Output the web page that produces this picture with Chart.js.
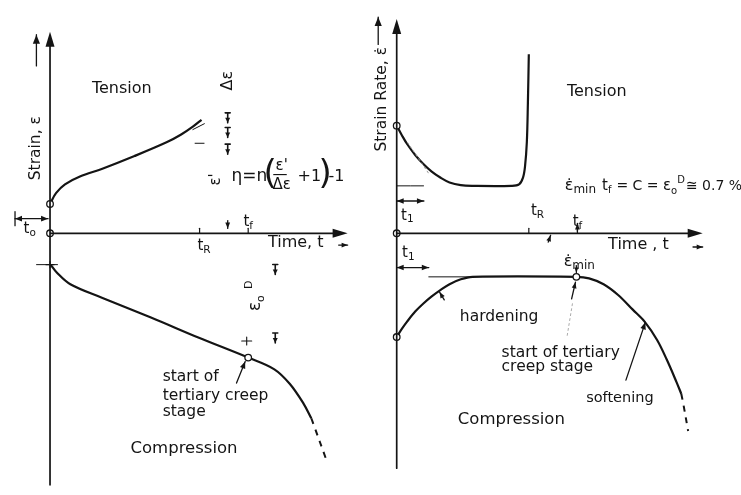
<!DOCTYPE html>
<html>
<head>
<meta charset="utf-8">
<script src="https://cdn.jsdelivr.net/npm/chart.js@4"></script>
<style>
  body { margin: 0; background: #fff; }
  #wrap { position: relative; width: 741px; height: 495px; }
  #wrap canvas { position: absolute; top: 0; }
</style>
</head>
<body>
<div id="wrap">
  <canvas id="strainChart" width="370" height="495" style="left:0"></canvas>
  <canvas id="rateChart" width="371" height="495" style="left:370px"></canvas>
</div>
<script>
// ---- data (time in units where t_R = 10, strain / strain rate in arbitrary units) ----
// left panel: strain vs time
const strainTensionTime = [0, 0.4, 1.0, 2.0, 3.5, 5.65, 7.79, 8.77, 9.55, 10.13];
const strainTension     = [3.0, 4.1, 5.0, 5.8, 6.6, 7.9, 9.3, 10.1, 10.9, 11.6];
const strainCompTime    = [0.04, 0.45, 1.36, 3.51, 6.75, 10.0, 13.25, 15.0, 16.04, 16.95, 17.47];
const strainCompression = [-3.2, -4.0, -5.2, -6.6, -8.6, -10.7, -12.7, -13.9, -15.4, -17.4, -18.9];
const strainTailTime    = [17.47, 17.66, 18.44];
const strainTail        = [-18.9, -19.7, -23.0];
const strainMarkTime    = [0, 0, 13.25];
const strainMarks       = [3.0, 0, -12.7];

// right panel: strain rate vs time
const rateTensionTime = [0, 0.4, 0.8, 1.4, 2.0, 2.65, 3.3, 4.0, 4.85, 5.74, 8.68, 9.26, 9.56, 9.71, 9.85, 9.93, 10.0];
const rateTension     = [11.0, 10.0, 9.1, 8.0, 7.1, 6.3, 5.7, 5.2, 4.92, 4.85, 4.85, 5.0, 5.7, 6.8, 9.3, 13.3, 18.3];
const rateCompTime    = [0, 0.4, 0.8, 1.4, 2.0, 2.65, 3.3, 4.0, 4.85, 5.74, 13.6, 14.56, 15.66, 16.76, 17.87, 18.75, 19.71, 20.44, 21.18, 21.54];
const rateCompression = [-10.6, -9.75, -9.0, -8.0, -7.2, -6.45, -5.8, -5.2, -4.7, -4.45, -4.45, -4.6, -5.2, -6.3, -7.8, -9.0, -10.9, -12.9, -15.2, -16.4];
const rateTailTime    = [21.54, 21.69, 22.06];
const rateTail        = [-16.4, -17.4, -20.2];
const rateMarkTime    = [0, 0, 0, 13.6];
const rateMarks       = [11.0, 0, -10.6, -4.45];
const minRateTime     = [0, 2.06];
const minRate         = [4.85, 4.85];

const INK = '#141414';
const FONT = '"DejaVu Sans", sans-serif';

function pts(xs, ys) {
  return xs.map((x, i) => ({ x: x, y: ys[i] }));
}

function curve(xs, ys, extra) {
  return Object.assign({
    data: pts(xs, ys), showLine: true, pointRadius: 0,
    borderColor: INK, borderWidth: 2.2, tension: 0.35
  }, extra || {});
}

function marks(xs, ys) {
  return {
    data: pts(xs, ys), showLine: false, pointRadius: 3.3,
    pointBackgroundColor: '#fff', pointBorderColor: INK, pointBorderWidth: 1.3
  };
}

// ---- drawing helpers for the sketch annotations ----
function head(ctx, x1, y1, x2, y2, len, w) {
  const a = Math.atan2(y2 - y1, x2 - x1);
  ctx.beginPath();
  ctx.moveTo(x2, y2);
  ctx.lineTo(x2 - len * Math.cos(a) + w * Math.sin(a), y2 - len * Math.sin(a) - w * Math.cos(a));
  ctx.lineTo(x2 - len * Math.cos(a) - w * Math.sin(a), y2 - len * Math.sin(a) + w * Math.cos(a));
  ctx.closePath();
  ctx.fill();
}

function rich(ctx, parts, x, y, align, rot) {
  ctx.save();
  ctx.translate(x, y);
  if (rot) ctx.rotate(rot * Math.PI / 180);
  let total = 0;
  parts.forEach(p => {
    ctx.font = (p.size || 15) + 'px ' + FONT;
    total += ctx.measureText(p.s).width + (p.gap || 0);
  });
  let cx = align === 'center' ? -total / 2 : 0;
  ctx.textBaseline = 'middle';
  ctx.textAlign = 'left';
  parts.forEach(p => {
    ctx.font = (p.size || 15) + 'px ' + FONT;
    const px = p.dx !== undefined ? p.dx : cx;
    ctx.fillText(p.s, px, p.dy || 0);
    cx = px + ctx.measureText(p.s).width + (p.gap || 0);
  });
  ctx.restore();
}

function makeSketch(cfg) {
  return {
    id: 'sketch',
    afterDatasetsDraw(chart) {
      const ctx = chart.ctx;
      const X = v => chart.scales.x.getPixelForValue(v);
      const Y = v => chart.scales.y.getPixelForValue(v);
      ctx.save();
      ctx.strokeStyle = INK;
      ctx.fillStyle = INK;
      ctx.lineCap = 'round';

      // axes with arrow heads
      const ax = cfg.axis;
      ctx.lineWidth = 1.7;
      ctx.beginPath();
      ctx.moveTo(X(0), Y(ax.bottom)); ctx.lineTo(X(0), Y(ax.top) + 8);
      ctx.moveTo(X(0), Y(0)); ctx.lineTo(X(ax.right) - 8, Y(0));
      ctx.stroke();
      head(ctx, X(0), Y(ax.top) + 20, X(0), Y(ax.top), 15, 4.5);
      head(ctx, X(ax.right) - 20, Y(0), X(ax.right), Y(0), 15, 4.5);

      // ticks on the time axis
      ctx.lineWidth = 1.2;
      cfg.ticks.forEach(t => {
        ctx.beginPath(); ctx.moveTo(X(t), Y(0)); ctx.lineTo(X(t), Y(0) - 5); ctx.stroke();
      });

      // thin construction lines
      (cfg.thin || []).forEach(l => {
        ctx.save();
        ctx.lineWidth = l.w || 1;
        ctx.strokeStyle = l.color || INK;
        ctx.setLineDash(l.dash || []);
        ctx.beginPath(); ctx.moveTo(X(l.from[0]), Y(l.from[1])); ctx.lineTo(X(l.to[0]), Y(l.to[1])); ctx.stroke();
        ctx.restore();
      });

      // arrows
      cfg.arrows.forEach(a => {
        const x1 = X(a.from[0]), y1 = Y(a.from[1]), x2 = X(a.to[0]), y2 = Y(a.to[1]);
        ctx.lineWidth = a.w || 1.3;
        ctx.beginPath(); ctx.moveTo(x1, y1); ctx.lineTo(x2, y2); ctx.stroke();
        head(ctx, x1, y1, x2, y2, a.head || 7, (a.head || 7) * 0.4);
        if (a.both) head(ctx, x2, y2, x1, y1, a.head || 7, (a.head || 7) * 0.4);
        if (a.bar) {
          ctx.beginPath(); ctx.moveTo(x1, y1 - 7); ctx.lineTo(x1, y1 + 7); ctx.stroke();
        }
      });

      // small I-beam dimension marks
      (cfg.beams || []).forEach(b => {
        const x = X(b[0]), y = Y(b[1]);
        ctx.lineWidth = 1.6;
        ctx.beginPath();
        ctx.moveTo(x, y - 5); ctx.lineTo(x, y + 5);
        ctx.moveTo(x - 2.5, y - 5); ctx.lineTo(x + 2.5, y - 5);
        ctx.stroke();
        head(ctx, x, y - 1, x, y + 5, 5, 2.5);
      });

      // crosses
      (cfg.crosses || []).forEach(c => {
        const x = X(c[0]), y = Y(c[1]), s = c[2] || 6;
        ctx.lineWidth = 1.1;
        ctx.beginPath();
        ctx.moveTo(x - s, y); ctx.lineTo(x + s, y);
        ctx.moveTo(x, y - s * 0.8); ctx.lineTo(x, y + s * 0.8);
        ctx.stroke();
      });

      // text
      cfg.texts.forEach(t => {
        const parts = typeof t.s === 'string' ? [{ s: t.s, size: t.size || 15 }] : t.s;
        rich(ctx, parts, X(t.at[0]), Y(t.at[1]), t.align || 'center', t.rot || 0);
      });
      ctx.restore();
    }
  };
}

function sub(base, s, size) {
  return [{ s: base, size: size || 15 }, { s: s, size: (size || 15) * 0.7, dy: 4 }];
}

const EDOT = 'ε\u0307';

// ---- left panel annotations ----
const strainSketch = {
  axis: { bottom: -25.7, top: 20.6, right: 19.9 },
  ticks: [10, 13.25],
  thin: [
    { from: [9.55, 10.6], to: [10.32, 11.2], w: 1 },
    { from: [9.7, 9.2], to: [10.3, 9.2], w: 1 },
    { from: [-0.9, -3.2], to: [0.5, -3.2], w: 1 }
  ],
  arrows: [
    { from: [-0.91, 17.1], to: [-0.91, 20.3], head: 9 },
    { from: [-2.34, 1.5], to: [-0.13, 1.5], both: true, bar: true, head: 7 },
    { from: [19.3, -1.2], to: [19.9, -1.2], head: 6 },
    { from: [12.47, -15.3], to: [13.05, -13.1], head: 7 },
    { from: [11.88, 1.3], to: [11.88, 0.5], head: 6 }
  ],
  beams: [[11.88, 11.8], [11.88, 10.3], [11.88, 8.6], [15.06, -3.7], [15.06, -10.7]],
  crosses: [[0, -3.2, 4], [13.15, -11.0, 5]],
  texts: [
    { s: 'Strain, ε', at: [-0.91, 8.7], rot: -90, size: 15.5 },
    { s: 'Tension', at: [4.8, 14.8], size: 16 },
    { s: 'Time, t', at: [16.43, -1.0], size: 16 },
    { s: sub('t', 'o'), at: [-1.36, 0.4] },
    { s: sub('t', 'R'), at: [10.3, -1.3] },
    { s: sub('t', 'f'), at: [13.25, 1.1] },
    { s: 'start of', at: [7.53, -14.7], align: 'left', size: 15.5 },
    { s: 'tertiary creep', at: [7.53, -16.6], align: 'left', size: 15.5 },
    { s: 'stage', at: [7.53, -18.3], align: 'left', size: 15.5 },
    { s: 'Compression', at: [8.96, -22.0], size: 16.5 },
    { s: 'Δε', at: [11.88, 15.6], rot: -90, size: 16 },
    { s: "ε'", at: [11.1, 5.5], rot: -90, size: 15 },
    { s: [{ s: 'ε', size: 17 }, { s: 'o', size: 11, dy: 5 }, { s: 'D', size: 11, dy: -7, dx: 10 }], at: [13.77, -6.7], rot: -90 },
    { s: [
        { s: 'η=n', size: 17, dx: 0 },
        { s: '(', size: 34, dx: 32, dy: -1 },
        { s: "ε'", size: 15, dx: 44, dy: -10 },
        { s: '—', size: 15, dx: 41, dy: -1 },
        { s: 'Δε', size: 15, dx: 41, dy: 9 },
        { s: '+1', size: 16, dx: 66 },
        { s: ')', size: 34, dx: 87, dy: -1 },
        { s: '-1', size: 16, dx: 97 }
      ], at: [12.14, 5.8], align: 'left' }
  ]
};

// ---- right panel annotations ----
const rateSketch = {
  axis: { bottom: -24.0, top: 21.9, right: 23.16 },
  ticks: [10, 13.68],
  thin: [
    { from: [0.81, 9.3], to: [2.43, 6.1], w: 1, color: '#999', dash: [2, 3] },
    { from: [2.43, -4.45], to: [5.74, -4.45], w: 1 },
    { from: [13.3, -7.2], to: [12.9, -10.5], w: 1, color: '#aaa', dash: [2, 3] }
  ],
  arrows: [
    { from: [-1.40, 19.3], to: [-1.40, 22.1], head: 9 },
    { from: [0, 3.3], to: [2.06, 3.3], both: true, head: 7 },
    { from: [0, -3.5], to: [2.43, -3.5], both: true, head: 7 },
    { from: [22.43, -1.4], to: [23.16, -1.4], head: 6 },
    { from: [17.35, -15.0], to: [18.82, -9.1], head: 7 },
    { from: [13.24, -6.7], to: [13.53, -5.0], head: 6 },
    { from: [13.6, -3.3], to: [13.6, -4.0], head: 5 },
    { from: [13.68, 0.2], to: [13.68, 1.0], head: 6 },
    { from: [11.47, -0.9], to: [11.65, -0.2], head: 6 },
    { from: [3.6, -6.8], to: [3.24, -6.0], head: 6 }
  ],
  texts: [
    { s: 'Strain Rate, ' + EDOT, at: [-1.10, 13.7], rot: -90, size: 15.5 },
    { s: 'Tension', at: [15.15, 14.5], size: 16 },
    { s: 'Time , t', at: [18.3, -1.2], size: 16 },
    { s: sub('t', 'R'), at: [10.66, 2.3] },
    { s: sub('t', 'f'), at: [13.68, 1.1] },
    { s: sub('t', '1'), at: [0.81, 1.8] },
    { s: sub('t', '1'), at: [0.88, -2.0] },
    { s: [{ s: EDOT, size: 16 }, { s: 'min', size: 12, dy: 4 }], at: [13.82, -2.9] },
    { s: 'hardening', at: [4.78, -8.5], align: 'left', size: 15.5 },
    { s: 'start of tertiary', at: [7.94, -12.2], align: 'left', size: 15.5 },
    { s: 'creep stage', at: [7.94, -13.7], align: 'left', size: 15.5 },
    { s: 'softening', at: [14.34, -16.9], align: 'left', size: 14.5 },
    { s: 'Compression', at: [8.68, -19.0], size: 16.5 },
    { s: [
        { s: EDOT, size: 16 }, { s: 'min', size: 12, dy: 4, gap: 6 },
        { s: 't', size: 15 }, { s: 'f', size: 10, dy: 4, gap: 5 },
        { s: '= C = ', size: 14 },
        { s: 'ε', size: 15 }, { s: 'o', size: 10, dy: 5 }, { s: 'D', size: 10, dy: -6, gap: 1 },
        { s: '≅ 0.7 %', size: 14 }
      ], at: [12.72, 4.8], align: 'left' }
  ]
};

function baseOptions(xmin, xmax) {
  return {
    responsive: false, animation: false, events: [],
    layout: { padding: 0 },
    plugins: { legend: { display: false }, tooltip: { enabled: false } },
    scales: {
      x: { type: 'linear', display: false, min: xmin, max: xmax },
      y: { type: 'linear', display: false, min: -26.2, max: 23.3 }
    }
  };
}

new Chart(document.getElementById('strainChart'), {
  type: 'scatter',
  data: {
    datasets: [
      marks(strainMarkTime, strainMarks),
      curve(strainTensionTime, strainTension),
      curve(strainCompTime, strainCompression),
      curve(strainTailTime, strainTail, { borderDash: [6, 6], borderWidth: 2 })
    ]
  },
  options: baseOptions(-2.99, 21.04),
  plugins: [makeSketch(strainSketch)]
});

new Chart(document.getElementById('rateChart'), {
  type: 'scatter',
  data: {
    datasets: [
      marks(rateMarkTime, rateMarks),
      curve(rateTensionTime, rateTension),
      curve(rateCompTime, rateCompression),
      curve(rateTailTime, rateTail, { borderDash: [6, 6], borderWidth: 2 }),
      curve(minRateTime, minRate, { borderWidth: 1 })
    ]
  },
  options: baseOptions(-1.62, 25.66),
  plugins: [makeSketch(rateSketch)]
});
</script>
</body>
</html>
